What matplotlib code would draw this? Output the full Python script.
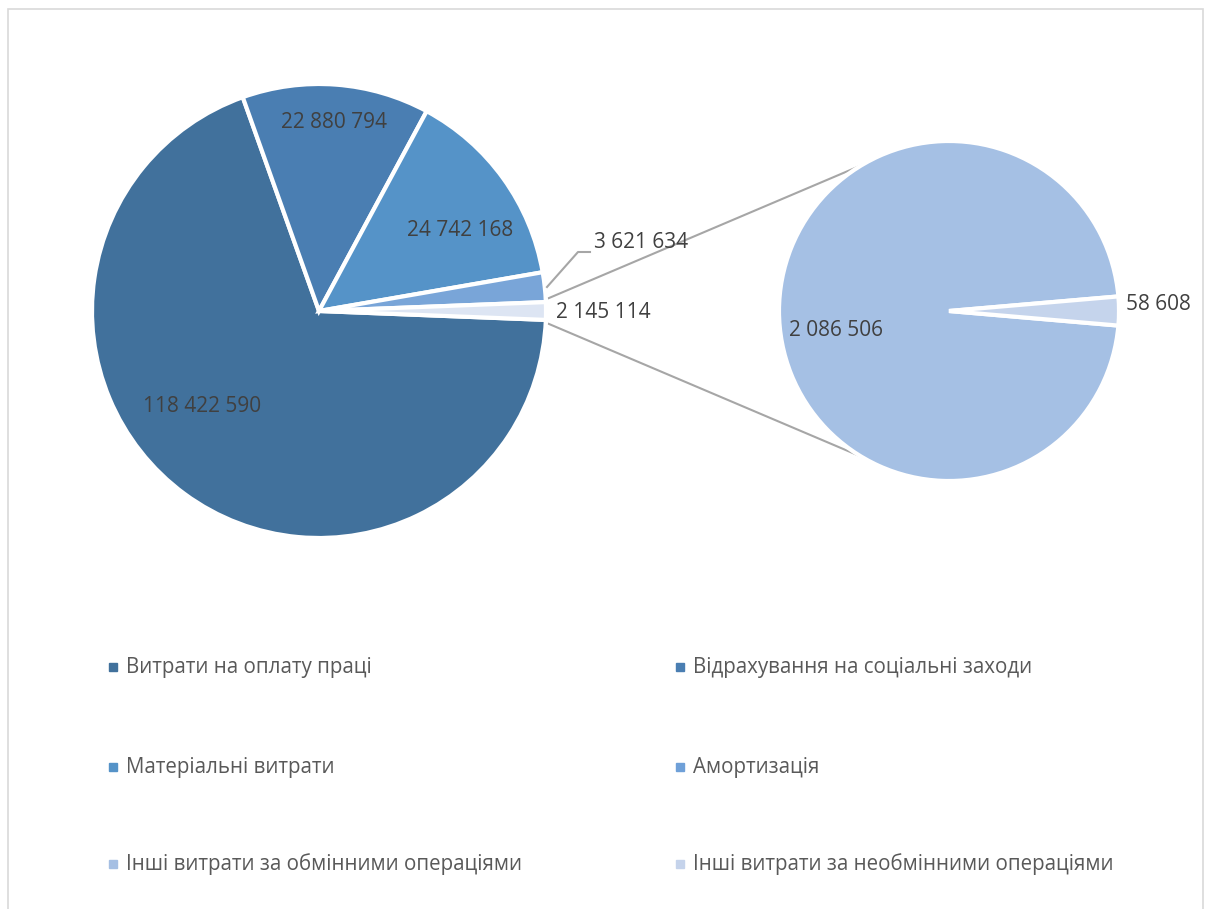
import matplotlib
matplotlib.use('Agg')
import matplotlib.pyplot as plt
import numpy as np
from matplotlib.patches import Rectangle

# data
main_labels = ['118 422 590', '22 880 794', '24 742 168', '3 621 634', '2 145 114']
main_values = [118422590, 22880794, 24742168, 3621634, 2145114]
main_colors = ['#41719C', '#4A7EB2', '#5593C8', '#79A5D8', '#DDE5F3']

sub_labels = ['2 086 506', '58 608']
sub_values = [2086506, 58608]
sub_colors = ['#A5C0E4', '#C5D4EC']

legend_names = ['Витрати на оплату праці', 'Відрахування на соціальні заходи',
                'Матеріальні витрати', 'Амортизація',
                'Інші витрати за обмінними операціями', 'Інші витрати за необмінними операціями']
legend_colors = ['#41719C', '#4A7EB2', '#5593C8', '#6FA0D8', '#A5BFE3', '#C5D3EB']

W, H = 1208, 909
fig = plt.figure(figsize=(W / 100, H / 100), dpi=100)
ax = fig.add_axes([0, 0, 1, 1])
ax.set_xlim(0, W)
ax.set_ylim(0, H)
ax.set_aspect('equal')
ax.axis('off')

font = 'Open Sans'
tc = '#404040'

# chart border
ax.add_patch(Rectangle((8, -10), 1195, H - 7 + 10 - 2, fill=False, ec='#D9D9D9', lw=1.2))

# left pie (clockwise, "other" slice centred on the right)
c1 = (319, H - 311)
r1 = 227
other_frac = main_values[-1] / sum(main_values)
start = -other_frac * 360 / 2
wedges1, _ = ax.pie(main_values, colors=main_colors, center=c1, radius=r1,
                    startangle=start, counterclock=False,
                    wedgeprops=dict(edgecolor='white', linewidth=3))

# right pie
c2 = (949, H - 311)
r2 = 170
small_frac = sub_values[1] / sum(sub_values)
start2 = -small_frac * 360 / 2
wedges2, _ = ax.pie(sub_values, colors=sub_colors, center=c2, radius=r2,
                    startangle=start2, counterclock=False,
                    wedgeprops=dict(edgecolor='white', linewidth=3))
ax.set_xlim(0, W)
ax.set_ylim(0, H)

# connector lines
a = np.radians(-start)
for sgn in (1, -1):
    p1 = (c1[0] + r1 * np.cos(a) + 3, c1[1] + sgn * r1 * np.sin(a) + sgn * 4)
    b = np.radians(sgn * 121)
    p2 = (c2[0] + r2 * np.cos(b), c2[1] + r2 * np.sin(b))
    ax.plot([p1[0], p2[0]], [p1[1], p2[1]], color='#A6A6A6', lw=1.5, zorder=0)

fs = 15
# labels on left pie
ax.text(143, H - 406, main_labels[0], fontsize=fs, color=tc, family=font, va='center')
ax.text(281, H - 122, main_labels[1], fontsize=fs, color=tc, family=font, va='center')
ax.text(407, H - 231, main_labels[2], fontsize=fs, color=tc, family=font, va='center')
ax.plot([547, 578, 590], [H - 287, H - 252, H - 252], color='#A6A6A6', lw=1.5)
ax.text(594, H - 243, main_labels[3], fontsize=fs, color=tc, family=font, va='center')
ax.text(556, H - 312, main_labels[4], fontsize=fs, color=tc, family=font, va='center')

# labels on right pie
ax.text(789, H - 330, sub_labels[0], fontsize=fs, color=tc, family=font, va='center')
ax.text(1126, H - 304, sub_labels[1], fontsize=fs, color=tc, family=font, va='center')

# legend
col_x = [113, 680]
row_y = [667, 767, 864]
for i, (name, col) in enumerate(zip(legend_names, legend_colors)):
    x = col_x[i % 2]
    y = H - row_y[i // 2]
    ax.add_patch(Rectangle((x - 4, y - 4), 8, 8, color=col))
    ax.text(x + 13, y, name, fontsize=14.8, color='#595959', family=font, va='center')

fig.savefig('out.png', dpi=100)
